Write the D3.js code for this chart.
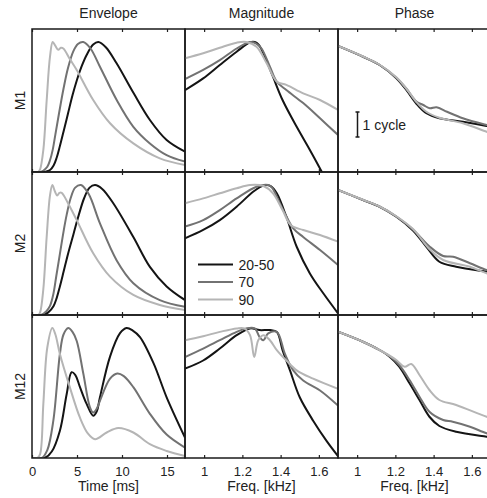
<!DOCTYPE html>
<html>
<head>
<meta charset="utf-8">
<script src="https://cdn.jsdelivr.net/npm/d3@7"></script>
<style>
  body { margin: 0; background: #fff; }
  svg { display: block; font-family: "Liberation Sans", Arial, sans-serif; }
  .axis text { font-size: 13px; fill: #222; }
  .axis line { stroke: #222; stroke-width: 1.2; }
</style>
</head>
<body>
<svg id="chart" width="487" height="498"></svg>
<script>
// Data
const columnTitles = ['Envelope', 'Magnitude', 'Phase'];
const rowLabels = ['M1', 'M2', 'M12'];
const seriesNames = ['20-50', '70', '90'];
const timeTicks = [0, 5, 10, 15];
const freqTicks = [1, 1.2, 1.4, 1.6];

// Envelope: [time ms, normalised amplitude]
const envM1_2050 = [[0,0],[1.2,0],[1.6,0.005],[2.0,0.015],[2.4,0.05],[2.74,0.11],[3.1,0.2],[3.5,0.31],[4.0,0.45],[4.5,0.59],[5.0,0.71],[5.5,0.81],[6.07,0.9],[6.8,0.98],[7.37,1.0],[8.2,0.96],[9.4,0.836],[11.3,0.605],[13.1,0.40],[14.96,0.246],[17,0.156]];
const envM1_70 = [[0,0],[1,0],[1.26,0.01],[1.7,0.04],[2.0,0.09],[2.3,0.17],[2.6,0.29],[3.0,0.45],[3.5,0.64],[4.0,0.8],[4.6,0.93],[5.1,0.985],[5.7,1.0],[6.5,0.95],[7.55,0.81],[9.41,0.554],[11.26,0.348],[13.1,0.22],[14.96,0.13],[17,0.08]];
const envM1_90 = [[0,0],[0.7,0],[0.9,0.02],[1.26,0.17],[1.63,0.55],[2.0,0.887],[2.3,1.0],[2.6,0.97],[2.92,0.94],[3.2,0.955],[3.48,0.95],[4.2,0.87],[4.97,0.785],[6.8,0.554],[8.67,0.375],[11.26,0.22],[14.2,0.105],[17,0.054]];
const envM2_2050 = [[0,0],[1.2,0],[1.8,0.02],[2.4,0.07],[2.74,0.13],[3.1,0.22],[3.5,0.33],[4.0,0.47],[4.6,0.62],[5.2,0.77],[5.8,0.9],[6.4,0.98],[7.0,1.0],[7.8,0.97],[9.03,0.86],[11.26,0.60],[13.1,0.37],[14.96,0.22],[17,0.115]];
const envM2_70 = [[0,0],[1,0],[1.6,0.03],[2.0,0.07],[2.37,0.16],[2.7,0.3],[3.1,0.47],[3.5,0.64],[3.85,0.77],[4.3,0.9],[4.8,0.98],[5.44,1.0],[6.3,0.93],[7.55,0.705],[9.41,0.42],[11.26,0.245],[14.2,0.115],[17,0.064]];
const envM2_90 = [[0,0],[0.7,0],[0.9,0.02],[1.26,0.2],[1.63,0.6],[2.0,0.92],[2.26,1.0],[2.55,0.95],[2.8,0.92],[3.05,0.94],[3.3,0.94],[4.0,0.86],[4.97,0.73],[6.8,0.475],[8.67,0.295],[11.26,0.154],[14.2,0.077],[17,0.038]];
const envM12_2050 = [[0,0],[1.4,0],[2.2,0.05],[3.1,0.21],[3.85,0.49],[4.4,0.66],[4.8,0.64],[5.33,0.545],[6.07,0.416],[6.8,0.325],[7.2,0.36],[7.55,0.467],[8.67,0.78],[9.78,0.96],[10.5,1.0],[11.2,0.98],[12,0.93],[13.5,0.73],[14.96,0.467],[17,0.157]];
const envM12_70 = [[0,0],[1.1,0],[1.7,0.06],[2.37,0.287],[3.1,0.80],[3.5,0.95],[4.03,1.0],[4.5,0.97],[4.97,0.9],[5.7,0.65],[6.44,0.39],[6.8,0.35],[7.2,0.38],[7.55,0.44],[8.67,0.61],[9.48,0.65],[10.2,0.63],[11.26,0.545],[13.1,0.34],[14.96,0.18],[17,0.08]];
const envM12_90 = [[0,0],[0.6,0],[0.9,0.03],[1.26,0.416],[1.7,0.85],[2.26,1.0],[2.6,0.95],[3.1,0.80],[4.2,0.545],[5.33,0.31],[6.2,0.19],[7.0,0.145],[8.3,0.196],[9.59,0.23],[11.26,0.196],[13.1,0.106],[14.96,0.054],[17,0.015]];

// Magnitude: [freq kHz, normalised level]
const magM1_2050 = [[0.9,0.63],[0.995,0.72],[1.082,0.823],[1.17,0.925],[1.24,0.998],[1.265,1.0],[1.285,0.98],[1.31,0.913],[1.36,0.733],[1.41,0.554],[1.484,0.348],[1.553,0.17],[1.615,0.002],[1.65,-0.1]];
const magM1_70 = [[0.9,0.715],[0.995,0.785],[1.082,0.86],[1.17,0.95],[1.24,1.0],[1.27,0.99],[1.3,0.95],[1.344,0.81],[1.38,0.695],[1.43,0.63],[1.518,0.53],[1.606,0.413],[1.70,0.285]];
const magM1_90 = [[0.9,0.875],[0.995,0.913],[1.082,0.956],[1.17,0.995],[1.22,1.0],[1.274,0.964],[1.327,0.836],[1.38,0.695],[1.43,0.67],[1.518,0.605],[1.606,0.554],[1.70,0.477]];
const magM2_2050 = [[0.9,0.59],[0.995,0.654],[1.082,0.73],[1.17,0.833],[1.256,0.948],[1.3,0.99],[1.327,1.0],[1.35,0.99],[1.38,0.936],[1.43,0.756],[1.484,0.525],[1.553,0.32],[1.623,0.167],[1.70,0.013]];
const magM2_70 = [[0.9,0.68],[0.995,0.73],[1.082,0.807],[1.17,0.897],[1.274,0.987],[1.335,1.0],[1.355,0.98],[1.38,0.91],[1.422,0.782],[1.466,0.667],[1.518,0.60],[1.606,0.50],[1.70,0.385]];
const magM2_90 = [[0.9,0.86],[0.995,0.897],[1.082,0.936],[1.17,0.975],[1.24,1.0],[1.31,0.992],[1.36,0.936],[1.41,0.807],[1.454,0.69],[1.518,0.654],[1.606,0.615],[1.70,0.564]];
const magM12_2050 = [[0.9,0.687],[0.995,0.75],[1.082,0.842],[1.17,0.945],[1.24,0.997],[1.29,0.984],[1.344,0.984],[1.38,0.97],[1.41,0.83],[1.449,0.674],[1.5,0.467],[1.57,0.287],[1.64,0.132],[1.70,0.015]];
const magM12_70 = [[0.9,0.777],[0.995,0.842],[1.082,0.906],[1.17,0.97],[1.22,0.997],[1.265,0.997],[1.29,0.93],[1.31,0.906],[1.335,0.958],[1.38,0.97],[1.422,0.803],[1.466,0.674],[1.518,0.596],[1.606,0.519],[1.70,0.403]];
const magM12_90 = [[0.9,0.906],[0.995,0.937],[1.082,0.97],[1.17,0.997],[1.21,0.997],[1.24,0.945],[1.262,0.777],[1.283,0.906],[1.31,0.945],[1.344,0.906],[1.38,0.83],[1.43,0.75],[1.484,0.674],[1.57,0.61],[1.70,0.532]];

// Phase: [freq kHz, cycles]
const phM1_2050 = [[0.9,-0.68],[1.031,-1.11],[1.118,-1.44],[1.205,-1.97],[1.257,-2.44],[1.31,-2.99],[1.362,-3.37],[1.43,-3.57],[1.553,-3.71],[1.677,-3.88],[1.72,-3.95]];
const phM1_70 = [[0.9,-0.68],[1.031,-1.11],[1.118,-1.44],[1.205,-1.95],[1.257,-2.38],[1.31,-2.9],[1.346,-3.04],[1.38,-3.17],[1.415,-3.13],[1.47,-3.31],[1.553,-3.57],[1.677,-3.84],[1.72,-3.92]];
const phM1_90 = [[0.9,-0.68],[1.031,-1.1],[1.118,-1.43],[1.205,-1.93],[1.257,-2.38],[1.31,-2.92],[1.362,-3.31],[1.43,-3.55],[1.553,-3.77],[1.677,-4.11],[1.72,-4.22]];
const phM2_2050 = [[0.9,-0.72],[1.031,-1.12],[1.118,-1.39],[1.205,-1.79],[1.292,-2.34],[1.362,-2.99],[1.43,-3.59],[1.518,-3.79],[1.677,-3.99],[1.72,-4.04]];
const phM2_70 = [[0.9,-0.72],[1.031,-1.12],[1.118,-1.39],[1.205,-1.78],[1.292,-2.3],[1.38,-2.99],[1.45,-3.36],[1.502,-3.39],[1.59,-3.65],[1.677,-3.92],[1.72,-4.0]];
const phM2_90 = [[0.9,-0.72],[1.031,-1.11],[1.118,-1.38],[1.205,-1.77],[1.292,-2.28],[1.38,-3.1],[1.45,-3.52],[1.59,-3.79],[1.677,-4.05],[1.72,-4.12]];
const phM12_2050 = [[0.9,-0.67],[1.03,-1.07],[1.117,-1.4],[1.17,-1.67],[1.22,-2.07],[1.274,-2.73],[1.326,-3.4],[1.378,-4.07],[1.43,-4.44],[1.518,-4.67],[1.677,-4.87],[1.72,-4.92]];
const phM12_70 = [[0.9,-0.67],[1.03,-1.07],[1.117,-1.4],[1.17,-1.65],[1.22,-2.0],[1.274,-2.6],[1.326,-3.27],[1.378,-3.87],[1.45,-4.2],[1.5,-4.27],[1.59,-4.47],[1.677,-4.73],[1.72,-4.8]];
const phM12_90 = [[0.9,-0.67],[1.03,-1.07],[1.117,-1.4],[1.205,-1.8],[1.248,-2.07],[1.283,-1.96],[1.326,-2.4],[1.378,-3.0],[1.43,-3.4],[1.518,-3.6],[1.677,-4.07],[1.72,-4.15]];

const panelData = [
    [[envM1_2050, envM1_70, envM1_90], [magM1_2050, magM1_70, magM1_90], [phM1_2050, phM1_70, phM1_90]],
    [[envM2_2050, envM2_70, envM2_90], [magM2_2050, magM2_70, magM2_90], [phM2_2050, phM2_70, phM2_90]],
    [[envM12_2050, envM12_70, envM12_90], [magM12_2050, magM12_70, magM12_90], [phM12_2050, phM12_70, phM12_90]]
];

// Layout
const marginLeft = 32, marginTop = 29, cellW = 153, cellH = 143;
const colors = ['#141414', '#727272', '#b5b5b5'];

const svg = d3.select('#chart');

// x scales per column
const xTime = d3.scaleLinear().domain([0, 17]).range([0, cellW]);
const xFreq = d3.scaleLinear().domain([0.9, 1.7]).range([0, cellW]);
const xScales = [xTime, xFreq, xFreq];
const yNorm = d3.scaleLinear().domain([0, 1.1]).range([cellH, 0]);
const yPhase = d3.scaleLinear().domain([-cellH / 25, 0]).range([cellH, 0]);
const yScales = [yNorm, yNorm, yPhase];
const tickSets = [timeTicks, freqTicks, freqTicks];

// Column titles
columnTitles.forEach((t, c) => {
    svg.append('text')
        .attr('x', marginLeft + c * cellW + cellW / 2)
        .attr('y', 17.5)
        .attr('text-anchor', 'middle')
        .attr('font-size', 14)
        .attr('fill', '#222')
        .text(t);
});

// Row labels
rowLabels.forEach((t, r) => {
    svg.append('text')
        .attr('transform', `translate(25,${marginTop + r * cellH + cellH / 2}) rotate(-90)`)
        .attr('text-anchor', 'middle')
        .attr('font-size', 14)
        .attr('fill', '#222')
        .text(t);
});

const defs = svg.append('defs');

for (let r = 0; r < 3; r++) {
    for (let c = 0; c < 3; c++) {
        const x = xScales[c], y = yScales[c];
        const g = svg.append('g')
            .attr('transform', `translate(${marginLeft + c * cellW},${marginTop + r * cellH})`);

        const clipId = `clip-${r}-${c}`;
        defs.append('clipPath').attr('id', clipId)
            .append('rect').attr('width', cellW).attr('height', cellH);

        const line = d3.line()
            .x(d => x(d[0]))
            .y(d => y(d[1]))
            .curve(d3.curveCatmullRom.alpha(0.5));

        const lines = g.append('g').attr('clip-path', `url(#${clipId})`);
        // black first, light grey ends up on top
        [0, 1, 2].forEach(s => {
            lines.append('path')
                .datum(panelData[r][c][s])
                .attr('d', line)
                .attr('fill', 'none')
                .attr('stroke', colors[s])
                .attr('stroke-width', 2);
        });

        // ticks inside, top and bottom
        const topAxis = g.append('g').attr('class', 'axis')
            .call(d3.axisTop(x).tickValues(tickSets[c]).tickSize(-3).tickFormat(''));
        topAxis.select('.domain').remove();

        const bottomAxis = g.append('g').attr('class', 'axis')
            .attr('transform', `translate(0,${cellH})`)
            .call(d3.axisBottom(x).tickValues(tickSets[c]).tickSize(-3).tickPadding(8.5)
                .tickFormat(r === 2 ? d3.format('') : ''));
        bottomAxis.select('.domain').remove();

        g.append('rect')
            .attr('width', cellW)
            .attr('height', cellH)
            .attr('fill', 'none')
            .attr('stroke', '#1a1a1a')
            .attr('stroke-width', 1.5);
    }
}

// x labels
const xLabels = ['Time [ms]', 'Freq. [kHz]', 'Freq. [kHz]'];
xLabels.forEach((t, c) => {
    svg.append('text')
        .attr('x', marginLeft + c * cellW + cellW / 2)
        .attr('y', 491)
        .attr('text-anchor', 'middle')
        .attr('font-size', 14)
        .attr('fill', '#222')
        .text(t);
});

// Legend in M2 magnitude panel
const legend = svg.append('g').attr('transform', `translate(${marginLeft + cellW},${marginTop + cellH})`);
seriesNames.forEach((name, i) => {
    const ly = 92.5 + i * 17.5;
    legend.append('line')
        .attr('x1', 13).attr('x2', 48)
        .attr('y1', ly).attr('y2', ly)
        .attr('stroke', colors[i])
        .attr('stroke-width', 2);
    legend.append('text')
        .attr('x', 53.5).attr('y', ly + 5)
        .attr('font-size', 14)
        .attr('fill', '#222')
        .text(name);
});

// 1 cycle scale bar in M1 phase panel
const barX = marginLeft + 2 * cellW + 19.5;
const barTop = marginTop + yPhase(-3.32), barBot = marginTop + yPhase(-4.32);
const bar = svg.append('g').attr('stroke', '#1a1a1a').attr('stroke-width', 1.5);
bar.append('line').attr('x1', barX).attr('x2', barX).attr('y1', barTop).attr('y2', barBot);
bar.append('line').attr('x1', barX - 2).attr('x2', barX + 2).attr('y1', barTop).attr('y2', barTop);
bar.append('line').attr('x1', barX - 2).attr('x2', barX + 2).attr('y1', barBot).attr('y2', barBot);
svg.append('text')
    .attr('x', barX + 5)
    .attr('y', 130)
    .attr('font-size', 14)
    .attr('fill', '#222')
    .text('1 cycle');
</script>
</body>
</html>
